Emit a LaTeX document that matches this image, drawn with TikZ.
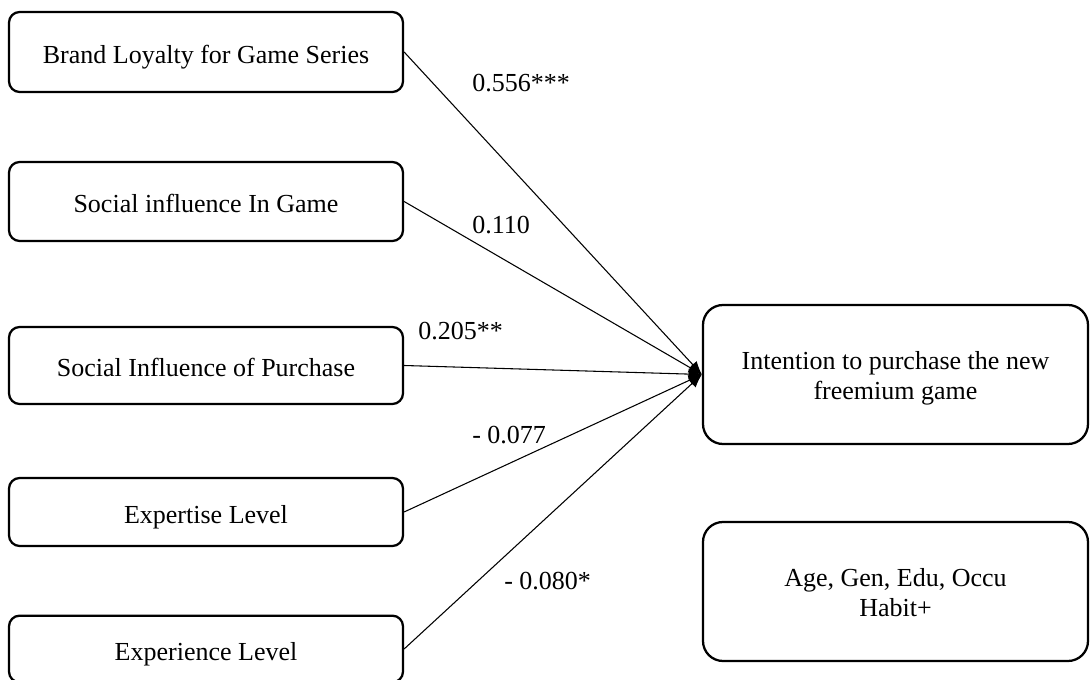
\documentclass[tikz,border=0pt]{standalone}
\usepackage{fontspec}
\setmainfont{Liberation Serif}
\usetikzlibrary{arrows.meta}
% two centred lines; #1 = declared depth below the first baseline (sets vertical placement)
\newcommand{\twolines}[3]{\raisebox{0pt}[15.4pt][#1]{\begin{tabular}[t]{@{}c@{}}#2\\#3\end{tabular}}}
\begin{document}
\begin{tikzpicture}[x=0.75pt,y=-0.75pt,
  txt/.style={font=\fontsize{19.5}{22}\selectfont},
  lbox/.style={txt, draw, line width=1.7pt, rounded corners=8pt,
    minimum width=295.5pt, inner sep=0pt, text height=17pt, text depth=0pt},
  rbox/.style={txt, draw, line width=1.7pt, rounded corners=15pt,
    minimum width=288.75pt, minimum height=104.25pt, inner sep=0pt},
  conn/.style={line width=0.8pt, -{Latex[length=10pt,width=8pt]}},
  coef/.style={txt, inner sep=0pt, anchor=base west}]
\useasboundingbox (0,0) rectangle (1090,680);
% predictor boxes
\node[lbox, minimum height=60pt]    (b1) at (206,52)    {Brand Loyalty for Game Series};
\node[lbox, minimum height=59.25pt] (b2) at (206,201.5) {Social influence In Game};
\node[lbox, minimum height=57.75pt] (b3) at (206,365.5) {Social Influence of Purchase};
\node[lbox, minimum height=51pt]    (b4) at (206,512)   {Expertise Level};
\node[lbox, minimum height=50pt]    (b5) at (206,649)   {Experience Level};
% outcome and controls
\node[rbox] (t) at (895.5,374.5) {\twolines{22.2pt}{Intention to purchase the new}{freemium game}};
\node[rbox] (c) at (895.5,591.5) {\twolines{22.6pt}{Age, Gen, Edu, Occu}{Habit+}};
% connectors
\draw[conn] (b1.east) -- (t.west);
\draw[conn] (b2.east) -- (t.west);
\draw[conn] (b3.east) -- (t.west);
\draw[conn] (b4.east) -- (t.west);
\draw[conn] (b5.east) -- (t.west);
% coefficients
\node[coef] (k1) at (472,92)    {0.556***};
\node[coef] (k2) at (472,233.3) {0.110};
\node[coef] (k3) at (418,340)   {0.205**};
\node[coef] (k4) at (472,443.3) {- 0.077};
\node[coef] (k5) at (504,590)   {- 0.080*};
\end{tikzpicture}
\end{document}
